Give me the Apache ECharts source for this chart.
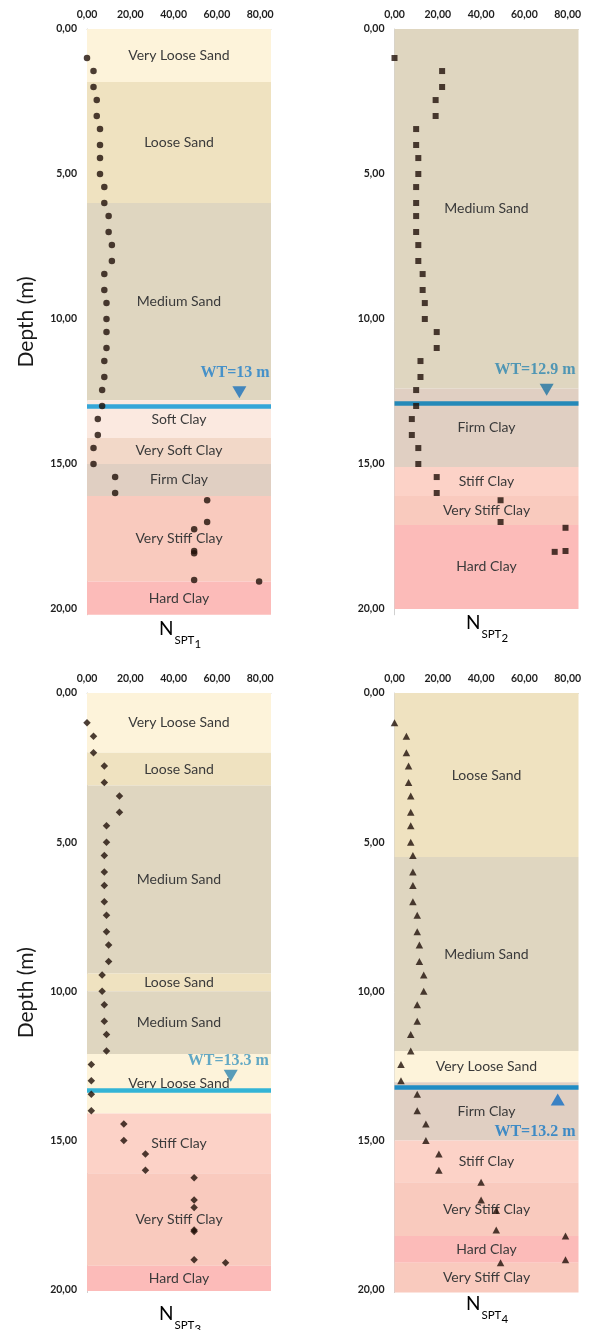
<!DOCTYPE html>
<html>
<head>
<meta charset="utf-8">
<title>SPT profiles</title>
<script src="https://cdn.jsdelivr.net/npm/echarts@6/dist/echarts.min.js"></script>
<style>
  html, body { margin: 0; padding: 0; background: #ffffff; }
  #chart { width: 591px; height: 1330px; }
</style>
</head>
<body>
<div id="chart"></div>
<script>
// ---- SPT blow counts (N) against test depth (m) for four boreholes ----
const depth1 = [1.0,1.45,2.0,2.45,3.0,3.45,4.0,4.45,5.0,5.45,6.0,6.45,7.0,7.45,8.0,8.45,9.0,9.45,10.0,10.45,11.0,11.45,12.0,12.45,13.0,13.45,14.0,14.45,15.0,15.45,16.0,16.25,17.0,17.25,18.0,18.08,19.0,19.05];
const nspt1  = [0,3,3,4.5,4.5,6,6,6,6,8,8,10,10,11.5,11.5,8,8,9,9,9,9,8,8,7,7,5,5,3,3,13,13,55.5,55.5,49.5,49.5,49.5,49.5,79.5];

const depth2 = [1.0,1.45,2.0,2.45,3.0,3.45,4.0,4.45,5.0,5.45,6.0,6.45,7.0,7.45,8.0,8.45,9.0,9.45,10.0,10.45,11.0,11.45,12.0,12.45,13.0,13.45,14.0,14.45,15.0,15.45,16.0,16.25,17.0,17.2,18.0,18.03];
const nspt2  = [0,22,22,19,19,10,10,11,11,10,10,10,10,11,11,13,13,14,14,19.5,19.5,12,12,10,10,8,8,11,11,19.5,19.5,49,49,79,79,74];

const depth3 = [1.0,1.45,2.0,2.45,3.0,3.45,4.0,4.45,5.0,5.45,6.0,6.45,7.0,7.45,8.0,8.45,9.0,9.45,10.0,10.45,11.0,11.45,12.0,12.45,13.0,13.45,14.0,14.45,15.0,15.45,16.0,16.25,17.0,17.25,18.0,18.05,19.0,19.1];
const nspt3  = [0,3,3,8,8,15,15,9,9,8,8,8,8,9,9,10,10,7,7,8,8,9,9,2,2,2,2,17,17,27,27,49.5,49.5,49.5,49.5,49.5,49.5,64];

const depth4 = [1.0,1.45,2.0,2.45,3.0,3.45,4.0,4.45,5.0,5.45,6.0,6.45,7.0,7.45,8.0,8.45,9.0,9.45,10.0,10.45,11.0,11.45,12.0,12.45,13.0,13.45,14.0,14.45,15.0,15.45,16.0,16.4,17.0,17.35,18.0,18.2,19.0,19.1];
const nspt4  = [0,5.5,5.5,6.5,6.5,7.5,7.5,7.5,7.5,8.5,8.5,8.5,8.5,10.5,10.5,11.5,11.5,13.5,13.5,10.5,10.5,7.5,7.5,3,3,10.5,10.5,14.5,14.5,20.5,20.5,40,40,47,47,79,79,49];

// ---- Soil layers: names and boundary depths (m) ----
const layers1 = ['Very Loose Sand','Loose Sand','Medium Sand','Soft Clay','Very Soft Clay','Firm Clay','Very Stiff Clay','Hard Clay'];
const bounds1 = [0,1.83,6.0,12.8,14.1,15.0,16.1,19.05,20.2];

const layers2 = ['Medium Sand','Firm Clay','Stiff Clay','Very Stiff Clay','Hard Clay'];
const bounds2 = [0,12.4,15.1,16.1,17.1,20.0];

const layers3 = ['Very Loose Sand','Loose Sand','Medium Sand','Loose Sand','Medium Sand','Very Loose Sand','Stiff Clay','Very Stiff Clay','Hard Clay'];
const bounds3 = [0,2.0,3.1,9.4,10.0,12.1,14.1,16.1,19.2,20.05];

const layers4 = ['Loose Sand','Medium Sand','Very Loose Sand','Firm Clay','Stiff Clay','Very Stiff Clay','Hard Clay','Very Stiff Clay'];
const bounds4 = [0,5.5,12.0,13.05,15.0,16.4,18.2,19.1,20.1];

// ---- Water table depth (m) ----
const waterTable = [13, 12.9, 13.3, 13.2];

// ---- Axis ticks ----
const nTicks = [0, 20, 40, 60, 80];
const depthTicks = [0, 5, 10, 15, 20];

// ---- Styling ----
const soilColor = {
  'Very Loose Sand': '#FDF3DA',
  'Loose Sand':      '#EFE2C0',
  'Medium Sand':     '#DFD6C0',
  'Soft Clay':       '#FBE9E0',
  'Very Soft Clay':  '#F2D8C8',
  'Firm Clay':       '#E0CFC2',
  'Stiff Clay':      '#FCD2C7',
  'Very Stiff Clay': '#F9CABE',
  'Hard Clay':       '#FCBBB9'
};
const FONT = 'Lato, "Open Sans", sans-serif';
const pointColor = '#1F0F07';

const panels = [
  { depth: depth1, n: nspt1, layers: layers1, bounds: bounds1, symbol: 'circle',  size: 6.5,
    grid: { left: 87,  top: 29,  width: 184, height: 585.8 }, yMax: 20.2, depthName: true,
    wt: { line: '#35A6D8', text: '#1F7FCB', mark: '#1A72BC', markN: 70.4, markD: 12.53, down: true, textN: 68.4, textD: 11.84 },
    title: { x: 180, y: 619 } },
  { depth: depth2, n: nspt2, layers: layers2, bounds: bounds2, symbol: 'rect',    size: 6,
    grid: { left: 394.5, top: 29, width: 184, height: 585.8 }, yMax: 20.2, depthName: false,
    wt: { line: '#2489B8', text: '#2C86B0', mark: '#1F74A3', markN: 70.3, markD: 12.44, down: true, textN: 64.9, textD: 11.75 },
    title: { x: 487, y: 613 } },
  { depth: depth3, n: nspt3, layers: layers3, bounds: bounds3, symbol: 'diamond', size: 7.5,
    grid: { left: 87,  top: 693, width: 184, height: 599.6 }, yMax: 20.1, depthName: true,
    wt: { line: '#33B4D6', text: '#3B95BE', mark: '#2E86B0', markN: 66.4, markD: 12.83, down: true, textN: 65.3, textD: 12.32 },
    title: { x: 180, y: 1304 } },
  { depth: depth4, n: nspt4, layers: layers4, bounds: bounds4, symbol: 'triangle', size: [7.5, 7],
    grid: { left: 394.5, top: 693, width: 184, height: 599.6 }, yMax: 20.1, depthName: false,
    wt: { line: '#1F8CC4', text: '#1579C6', mark: '#116EC4', markN: 75.4, markD: 13.63, down: false, textN: 64.9, textD: 14.7 },
    title: { x: 487, y: 1294 } }
];

const fmt = v => v.toFixed(2).replace('.', ',');

const grids = [], xAxes = [], yAxes = [], series = [], graphics = [];

panels.forEach((p, i) => {
  grids.push(Object.assign({ containLabel: false }, p.grid));

  xAxes.push({
    gridIndex: i, type: 'value', position: 'top', min: 0, max: 85, interval: 20,
    axisLine: { show: true, lineStyle: { color: '#D9D9D9', width: 1 } },
    axisTick: { show: false }, splitLine: { show: false },
    axisLabel: {
      margin: 9, color: '#1E1E1E', fontWeight: 'bold', fontSize: 10.5, fontFamily: FONT,
      showMaxLabel: false,
      formatter: v => nTicks.indexOf(v) >= 0 ? fmt(v) : ''
    }
  });

  yAxes.push({
    gridIndex: i, type: 'value', inverse: true, min: 0, max: p.yMax, interval: 5,
    name: p.depthName ? 'Depth (m)' : '', nameLocation: 'middle', nameRotate: 90, nameGap: 50,
    nameTextStyle: { fontFamily: FONT, fontSize: 21, color: '#1A1A1A' },
    axisLine: { show: true, lineStyle: { color: '#D0D0D0', width: 1 } },
    axisTick: { show: false }, splitLine: { show: false },
    axisLabel: {
      margin: 10, color: '#1E1E1E', fontWeight: 'bold', fontSize: 10.5, fontFamily: FONT,
      showMaxLabel: false,
      formatter: v => depthTicks.indexOf(v) >= 0 ? fmt(v) : ''
    }
  });

  // SPT points, with the soil layer bands and the water table line beneath them
  series.push({
    type: 'scatter', xAxisIndex: i, yAxisIndex: i, z: 3,
    symbol: p.symbol, symbolSize: p.size,
    itemStyle: { color: pointColor },
    data: p.n.map((v, k) => [v, p.depth[k]]),
    markArea: {
      silent: true, z: 1,
      label: { show: true, position: 'inside', color: '#3A3A3A', fontFamily: FONT, fontSize: 14 },
      data: p.layers.map((name, k) => [
        { name: name, yAxis: p.bounds[k], itemStyle: { color: soilColor[name] } },
        { yAxis: p.bounds[k + 1] }
      ])
    },
    markLine: {
      silent: true, z: 2, symbol: 'none',
      label: { show: false },
      lineStyle: { color: p.wt.line, width: 4.5, type: 'solid' },
      data: [{ yAxis: waterTable[i] }]
    }
  });

  // water table marker
  series.push({
    type: 'scatter', xAxisIndex: i, yAxisIndex: i, z: 4, silent: true,
    symbol: 'triangle', symbolSize: [14, 12], symbolRotate: p.wt.down ? 180 : 0,
    itemStyle: { color: p.wt.mark },
    data: [[p.wt.markN, p.wt.markD]]
  });

  // water table label
  series.push({
    type: 'scatter', xAxisIndex: i, yAxisIndex: i, z: 5, silent: true,
    symbolSize: 0,
    label: {
      show: true, position: 'inside', formatter: 'WT=' + waterTable[i] + ' m',
      color: p.wt.text, fontFamily: '"Liberation Serif", "DejaVu Serif", serif',
      fontWeight: 'bold', fontSize: 16
    },
    data: [[p.wt.textN, p.wt.textD]]
  });

  // N_SPT caption under each profile
  graphics.push({
    type: 'text', x: p.title.x, y: p.title.y, silent: true,
    style: {
      text: '{n|N}{s|SPT}{k|' + (i + 1) + '}',
      align: 'center', verticalAlign: 'top',
      rich: {
        n: { fontFamily: FONT, fontSize: 19, color: '#1A1A1A', lineHeight: 20, verticalAlign: 'top' },
        s: { fontFamily: FONT, fontSize: 11.5, color: '#1A1A1A', lineHeight: 12, verticalAlign: 'top', padding: [15, 0, 0, 1] },
        k: { fontFamily: FONT, fontSize: 11.5, color: '#1A1A1A', lineHeight: 12, verticalAlign: 'top', padding: [19, 0, 0, 0] }
      }
    }
  });
});

const chart = echarts.init(document.getElementById('chart'), null, { renderer: 'canvas' });
chart.setOption({
  backgroundColor: '#FFFFFF',
  animation: false,
  grid: grids,
  xAxis: xAxes,
  yAxis: yAxes,
  series: series,
  graphic: graphics
});
</script>
</body>
</html>
